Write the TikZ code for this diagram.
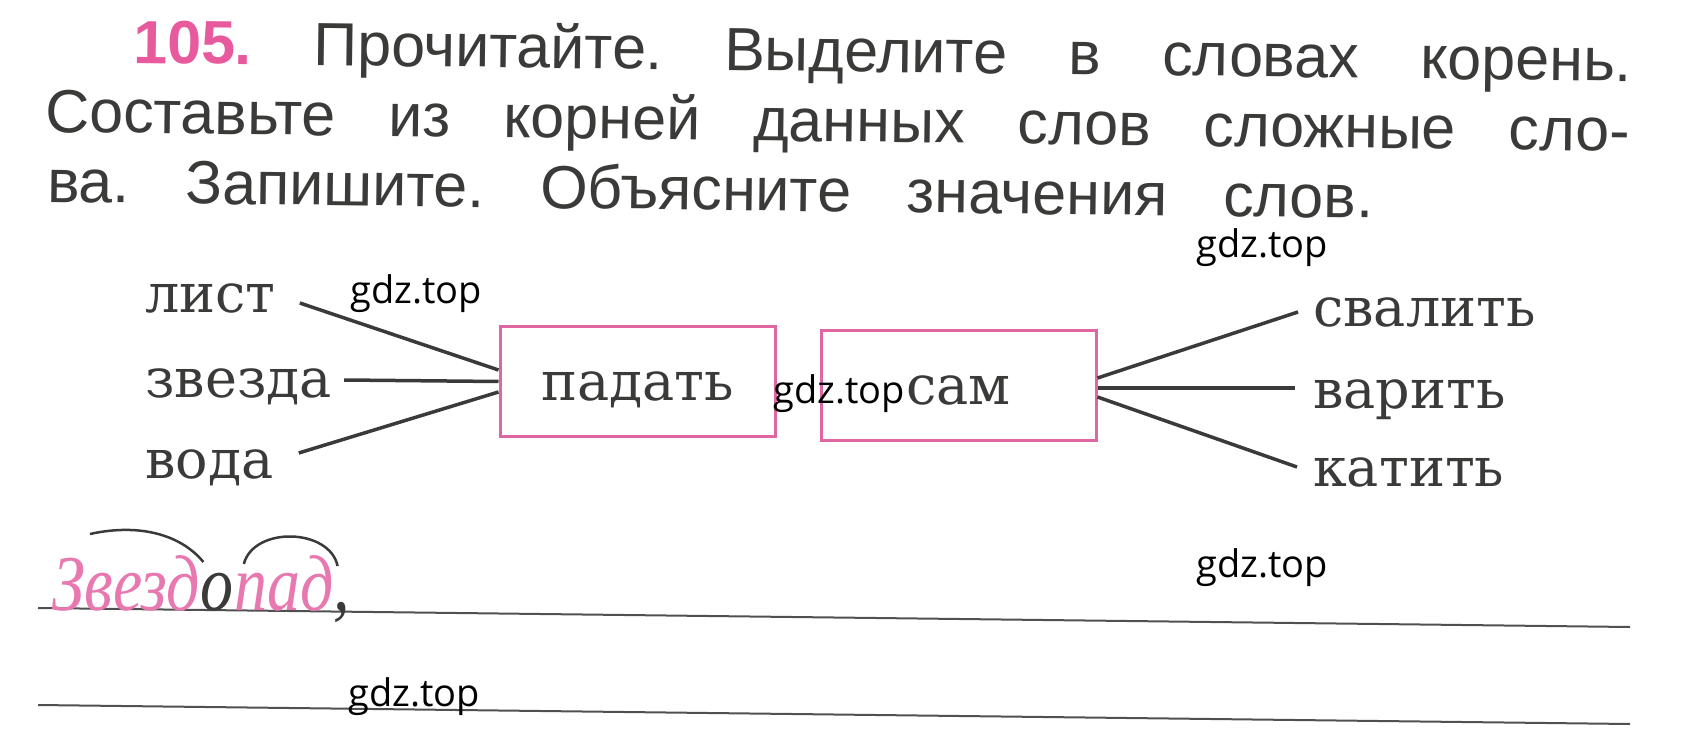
\documentclass[tikz,border=0pt]{standalone}
\usepackage{fontspec}
\setmainfont{Liberation Sans}
\newfontfamily\wordfont{DejaVu Serif}
\newfontfamily\handfont{Liberation Serif}
\newfontfamily\markfont{Open Sans}
\usepackage{xcolor}
\usepackage{tikz}

\definecolor{inkgray}{HTML}{3A3A38}
\definecolor{numpink}{HTML}{E85A9E}
\definecolor{boxpink}{HTML}{E066A2}
\definecolor{handpink}{HTML}{E878B0}
\definecolor{rulegray}{HTML}{505050}

\frenchspacing

\begin{document}
\begin{tikzpicture}[x=1pt,y=-1pt]
\tikzstyle{every node}+=[inner sep=0pt]
\tikzset{
  title/.style={anchor=base west, rotate=-0.7, text=inkgray, font=\fontsize{61}{63}\selectfont},
  word/.style={anchor=base west, text=inkgray, font=\wordfont\fontsize{54}{56}\selectfont, text height=28pt, text depth=0pt},
  rootbox/.style={draw=boxpink, line width=3pt, minimum width=275pt, minimum height=110pt, text=inkgray, font=\wordfont\fontsize{54}{56}\selectfont, text height=37pt, text depth=0pt},
  link/.style={draw=inkgray, line width=3.5pt},
  hand/.style={anchor=base west, yscale=1.2, text=handpink, font=\handfont\itshape\fontsize{66}{68}\selectfont},
  rootarc/.style={draw=inkgray, line width=2.5pt},
  rule/.style={draw=rulegray, line width=2pt},
  wmark/.style={anchor=base west, text=black, font=\markfont\fontsize{38}{40}\selectfont}
}
\useasboundingbox (0,0) rectangle (1708,754);
% task text
\node [title] (line1) at (133,63) {\makebox[1499pt][s]{\textcolor{numpink}{\bfseries 105.} Прочитайте. Выделите в словах корень.}};
\node [title] (line2) at (45,132) {\makebox[1585pt][s]{Составьте из корней данных слов сложные сло-}};
\node [title] (line3) at (47,202) {\makebox[1326pt][s]{ва. Запишите. Объясните значения слов.}};
% roots
\node [rootbox] (padat) at (637.5,381.5) {падать};
\node [rootbox] (sam) at (958.5,385.5) {сам};
% words
\node [word] (list) at (145,312) {лист};
\node [word] (zvezda) at (145,397) {звезда};
\node [word] (voda) at (145,478) {вода};
\node [word] (svalit) at (1313,326) {свалить};
\node [word] (varit) at (1313,408) {варить};
\node [word] (katit) at (1313,486) {катить};
\draw [link] ([xshift=24pt,yshift=-5pt]list.east) -- ([yshift=11.5pt]padat.west);
\draw [link] ([xshift=12pt,yshift=3pt]zvezda.east) -- (padat.west);
\draw [link] ([xshift=25pt,yshift=11pt]voda.east) -- ([yshift=-10.5pt]padat.west);
\draw [link] ([yshift=7.5pt]sam.east) -- ([xshift=-15pt]svalit.west);
\draw [link] ([yshift=-2.5pt]sam.east) -- ([xshift=-18pt,yshift=6pt]varit.west);
\draw [link] ([yshift=-11.5pt]sam.east) -- ([xshift=-16pt,yshift=5pt]katit.west);
% writing lines
\draw [rule] (38,608) -- (1630,627);
\draw [rule] (38,705) -- (1630,724);
% the answer
\node [hand] (root1) at (52,610) {Звезд};
\node [hand, text=inkgray] (vowel) at (root1.base east) {о};
\node [hand] (root2) at (vowel.base east) {пад};
\node [hand, text=inkgray] (comma) at (root2.base east) {,};
\draw [rootarc] ([xshift=38pt,yshift=76pt]root1.base west) .. controls +(45,-10) and +(-25,-30) .. ([xshift=3pt,yshift=48pt]root1.base east);
\draw [rootarc] ([xshift=10pt,yshift=46pt]root2.base west) .. controls +(10,-38) and +(-8,-38) .. ([xshift=4pt,yshift=44pt]root2.base east);
% watermarks
\node [wmark] (wm1) at (1196,258) {gdz.top};
\node [wmark] (wm2) at (350,303) {gdz.top};
\node [wmark] (wm3) at (773,403) {gdz.top};
\node [wmark] (wm4) at (1196,577) {gdz.top};
\node [wmark] (wm5) at (348,706) {gdz.top};
\end{tikzpicture}
\end{document}
